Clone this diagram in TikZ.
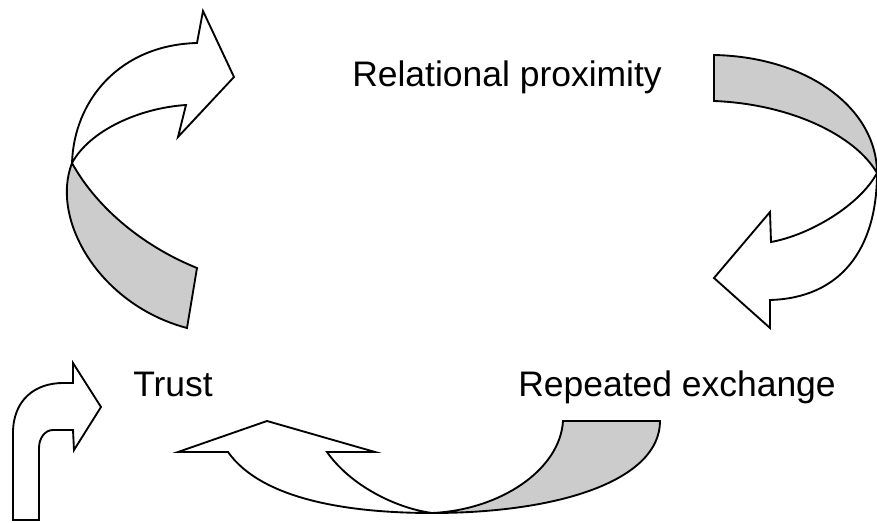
\documentclass[tikz,border=0pt]{standalone}
\usepackage{fontspec}
\setmainfont{Liberation Sans}
\definecolor{backgray}{RGB}{204,204,204}
\tikzset{
  front/.style={draw=black, fill=white, line width=1.4pt, line join=miter},
  back/.style={draw=black, fill=backgray, line width=1.4pt, line join=miter},
  label/.style={anchor=base west, inner sep=0pt, font=\fontsize{26.6}{30}\selectfont}
}
\begin{document}
\begin{tikzpicture}[x=0.75pt, y=-0.75pt]
  \useasboundingbox (0,0) rectangle (877,523);
  % labels
  \node[label] (relprox) at (352,87) {Relational proximity};
  \node[label] (trust) at (133,397) {Trust};
  \node[label] (repex) at (518,397) {Repeated exchange};
  % top left arrow
  \draw[back] (72,163) .. controls (50,220) and (100,305) .. (187,328)
    -- (197,268) .. controls (140,245) and (95,205) .. (72,163) -- cycle;
  \draw[front] (72,163) .. controls (74,100) and (120,45) .. (197,43)
    -- (203,11) -- (234,77) -- (178,137) -- (186,105)
    .. controls (140,108) and (90,130) .. (72,163) -- cycle;
  % top right arrow
  \draw[back] (714,55) .. controls (810,57) and (877,110) .. (877,173)
    .. controls (855,135) and (790,104) .. (714,101) -- cycle;
  \draw[front] (877,173) .. controls (877,250) and (840,298) .. (770,300)
    -- (770,328) -- (714,278) -- (770,212) -- (771,242)
    .. controls (810,235) and (860,205) .. (877,173) -- cycle;
  % bottom arrow
  \draw[back] (432,513) .. controls (500,510) and (560,470) .. (563,421)
    -- (660,421) .. controls (660,480) and (560,513) .. (432,513) -- cycle;
  \draw[front] (432,513) .. controls (350,513) and (262,500) .. (228,452)
    -- (178,452) -- (267,421) -- (375,452) -- (327,452)
    .. controls (350,485) and (395,508) .. (432,513) -- cycle;
  % small arrow
  \draw[front] (13,520) -- (13,433) .. controls (13,400) and (35,383) .. (63,383)
    -- (73,383) -- (73,363) -- (101,407) -- (74,450) -- (73,430) -- (53,430)
    .. controls (45,430) and (39,438) .. (39,448) -- (39,520) -- cycle;
\end{tikzpicture}
\end{document}
